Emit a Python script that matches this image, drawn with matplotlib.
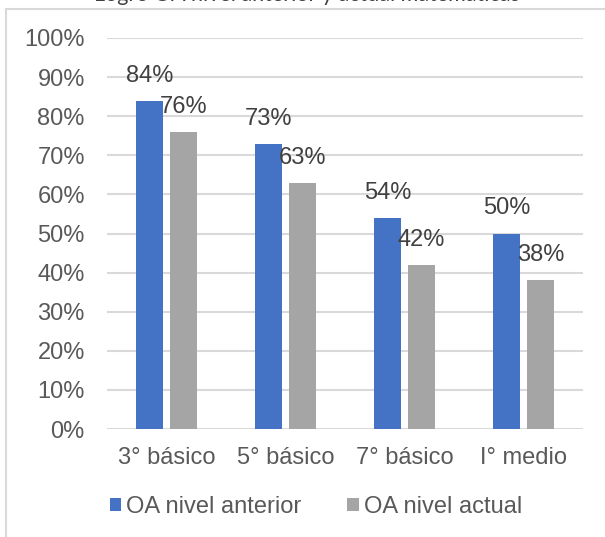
import numpy as np
import matplotlib.pyplot as plt
from matplotlib.lines import Line2D
from matplotlib.ticker import PercentFormatter

# data
categorias = ['3° básico', '5° básico', '7° básico', 'I° medio']
nivel_anterior = [0.84, 0.73, 0.54, 0.50]
nivel_actual = [0.76, 0.63, 0.42, 0.38]
series = ['OA nivel anterior', 'OA nivel actual']
titulo = 'Logro OA nivel anterior y actual matemáticas'

plt.rcParams['font.family'] = ['Liberation Sans', 'DejaVu Sans']

fig = plt.figure(figsize=(6.05, 5.37), dpi=100)
ax = fig.add_axes([107/605, 1 - 429/537, 476/605, 391/537])

x = np.arange(len(categorias))
w = 0.22
off = 0.143
b1 = ax.bar(x - off, nivel_anterior, w, color='#4472C4', label=series[0], zorder=3)
b2 = ax.bar(x + off, nivel_actual, w, color='#A5A5A5', label=series[1], zorder=3)

# data labels, placed above the bars
for bars in (b1, b2):
    for r in bars:
        v = r.get_height()
        ax.text(r.get_x() + r.get_width() / 2, v + 0.064, f'{v:.0%}',
                ha='center', va='center', fontsize=17, color='#404040', zorder=4)

ax.set_xlim(-0.5, len(categorias) - 0.5)
ax.set_ylim(0, 1)
ax.set_yticks(np.arange(0, 1.01, 0.1))
ax.yaxis.set_major_formatter(PercentFormatter(1.0, decimals=0))
ax.set_xticks(x)
ax.set_xticklabels(categorias)
ax.tick_params(axis='both', length=0, labelsize=17, labelcolor='#595959')
ax.tick_params(axis='y', pad=16)
ax.tick_params(axis='x', pad=13)
ax.grid(axis='y', color='#D9D9D9', linewidth=1.5, zorder=0)
for s in ax.spines.values():
    s.set_visible(False)

# legend
fig.legend(handles=[b1, b2], loc='center', bbox_to_anchor=(0.522, 1 - 507/537),
           ncol=2, frameon=False, fontsize=17, labelcolor='#595959',
           handlelength=0.5, handleheight=0.5, handletextpad=0.2,
           columnspacing=1.95)

# chart frame (partly cut off)
fig.add_artist(Line2D([6/605, 1], [1 - 9/537, 1 - 9/537], transform=fig.transFigure,
                      color='#D9D9D9', linewidth=1.5))
fig.add_artist(Line2D([6/605, 6/605], [0, 1 - 9/537], transform=fig.transFigure,
                      color='#D9D9D9', linewidth=1.5))

# title, mostly cut off at the top as in the original
fig.text(307/605, 1 - 1/537, titulo, ha='center', va='baseline', fontsize=15.5,
         color='#404040', family=['Lato', 'DejaVu Sans'])

plt.savefig('out.png', dpi=100)
